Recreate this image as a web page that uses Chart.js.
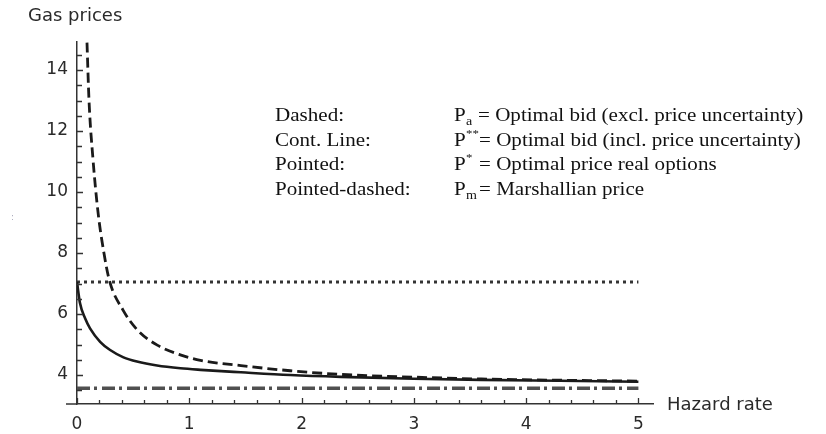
<!DOCTYPE html>
<html>
<head>
<meta charset="utf-8">
<script src="https://cdn.jsdelivr.net/npm/chart.js@4/dist/chart.umd.min.js"></script>
<style>
  body { margin: 0; background: #fff; }
</style>
</head>
<body>
<canvas id="myChart" width="826" height="434"></canvas>
<script>
// values
const hazardDashed = [0.089, 0.107, 0.143, 0.19, 0.24, 0.29, 0.41, 0.537, 0.715, 0.92, 1.1, 1.46, 1.9, 2.35, 3.0, 3.6, 4.3, 5.0];
const priceDashed  = [14.9, 13.0, 11.05, 9.25, 8.0, 7.08, 6.13, 5.48, 4.98, 4.66, 4.48, 4.31, 4.14, 4.02, 3.93, 3.87, 3.83, 3.8];
const hazardSolid  = [0, 0.027, 0.072, 0.116, 0.206, 0.295, 0.414, 0.534, 0.713, 0.921, 1.1, 1.46, 1.9, 2.35, 3.0, 3.6, 4.3, 5.0];
const priceSolid   = [7.05, 6.35, 5.86, 5.53, 5.09, 4.82, 4.58, 4.44, 4.31, 4.22, 4.17, 4.09, 4.0, 3.94, 3.88, 3.84, 3.81, 3.78];
const hazardFlat   = [0, 5];
const pStar = 7.05;
const pMarshall = 3.57;

const xTickLabels = [0, 1, 2, 3, 4, 5];
const yTickLabels = [4, 6, 8, 10, 12, 14];

const legendNames = ['Dashed:', 'Cont. Line:', 'Pointed:', 'Pointed-dashed:'];
const legendSymbols = [['a', 'sub'], ['**', 'sup'], ['*', 'sup'], ['m', 'sub']];
const legendTexts = ['= Optimal bid (excl. price uncertainty)', '= Optimal bid (incl. price uncertainty)',
                     '= Optimal price real options', '= Marshallian price'];

const pts = (xs, ys) => xs.map((x, i) => ({ x: x, y: ys[i] }));
const near = (v, step) => Math.abs(v / step - Math.round(v / step)) < 1e-6;

const axisFont = 'DejaVu Sans';
const textCol = '#2a2a2a';

// inward ticks, axis stub, titles and the text legend
const decor = {
    id: 'decor',
    afterDraw(chart) {
        const ctx = chart.ctx;
        const a = chart.chartArea;
        const xs = chart.scales.x, ys = chart.scales.y;
        ctx.save();
        ctx.strokeStyle = '#333';
        ctx.lineWidth = 1.3;
        ctx.beginPath();
        xs.ticks.forEach(t => {
            const px = Math.round(xs.getPixelForValue(t.value)) + 0.5;
            const len = near(t.value, 1) ? 6 : 4;
            ctx.moveTo(px, a.bottom); ctx.lineTo(px, a.bottom - len);
        });
        ys.ticks.forEach(t => {
            const py = Math.round(ys.getPixelForValue(t.value)) + 0.5;
            const len = near(t.value, 2) ? 6 : 5;
            ctx.moveTo(a.left, py); ctx.lineTo(a.left + len, py);
        });
        ctx.stroke();
        ctx.lineWidth = 1.5;
        ctx.beginPath();
        ctx.moveTo(a.left - 11, a.bottom); ctx.lineTo(a.left, a.bottom);
        ctx.stroke();

        ctx.fillStyle = textCol;
        ctx.font = '18px "' + axisFont + '"';
        ctx.textBaseline = 'middle';
        ctx.textAlign = 'left';
        ctx.fillText('Gas prices', 28, 16);
        ctx.fillText('Hazard rate', 667, 405);
        ctx.fillStyle = '#aab';
        ctx.font = '9px "' + axisFont + '"';
        ctx.fillText(':', 11, 218);

        // legend text (serif, slightly wide)
        const sx = 1.17;
        const put = (txt, x, y, size) => {
            ctx.save();
            ctx.translate(x, y);
            ctx.scale(sx, 1);
            ctx.font = size + 'px "Liberation Serif"';
            ctx.fillText(txt, 0, 0);
            ctx.restore();
        };
        ctx.fillStyle = '#111';
        ctx.textBaseline = 'alphabetic';
        const base = [121, 145.5, 170, 194.5];
        legendNames.forEach((n, i) => {
            const y = base[i];
            put(n, 275, y, 18);
            put('P', 454, y, 18);
            const s = legendSymbols[i];
            if (s[1] === 'sub') put(s[0], 466, y + 4, 12);
            else put(s[0], 466, y - 9, 11);
            put(legendTexts[i], i === 0 ? 478 : 479, y, 18);
        });
        ctx.restore();
    }
};

new Chart(document.getElementById('myChart'), {
    type: 'scatter',
    data: {
        datasets: [{
            label: 'Pa',
            data: pts(hazardDashed, priceDashed),
            showLine: true,
            borderColor: '#1a1a1a',
            borderWidth: 2.8,
            borderDash: [10, 5],
            cubicInterpolationMode: 'monotone',
            pointRadius: 0
        }, {
            label: 'P**',
            data: pts(hazardSolid, priceSolid),
            showLine: true,
            borderColor: '#1a1a1a',
            borderWidth: 2.6,
            cubicInterpolationMode: 'monotone',
            pointRadius: 0
        }, {
            label: 'P*',
            data: pts(hazardFlat, [pStar, pStar]),
            showLine: true,
            borderColor: '#333',
            borderWidth: 3.2,
            borderDash: [3, 4],
            pointRadius: 0
        }, {
            label: 'Pm',
            data: pts(hazardFlat, [pMarshall, pMarshall]),
            showLine: true,
            borderColor: '#505050',
            borderWidth: 3.5,
            borderDash: [13, 4, 3, 5],
            pointRadius: 0
        }]
    },
    options: {
        responsive: false,
        animation: false,
        devicePixelRatio: 1,
        layout: { padding: { top: 42, right: 173, bottom: 0, left: 0 } },
        plugins: { legend: { display: false }, tooltip: { enabled: false } },
        scales: {
            x: {
                type: 'linear',
                min: 0,
                max: 5.13,
                afterFit: s => { s.height = 30; },
                afterBuildTicks: s => { s.ticks = s.ticks.filter(t => near(t.value, 0.2)); },
                grid: { display: false, drawTicks: false },
                border: { display: true, color: '#333', width: 1.5 },
                ticks: {
                    stepSize: 0.2,
                    includeBounds: false,
                    autoSkip: false,
                    maxRotation: 0,
                    padding: 10,
                    color: textCol,
                    font: { family: axisFont, size: 17 },
                    callback: v => xTickLabels.find(l => Math.abs(l - v) < 1e-6) !== undefined ? String(Math.round(v)) : ''
                }
            },
            y: {
                min: 3.05,
                max: 14.92,
                afterFit: s => { s.width = 77; },
                afterBuildTicks: s => { s.ticks = s.ticks.filter(t => near(t.value, 0.5)); },
                grid: { display: false, drawTicks: false },
                border: { display: true, color: '#333', width: 1.5 },
                ticks: {
                    stepSize: 0.5,
                    includeBounds: false,
                    autoSkip: false,
                    padding: 9,
                    color: textCol,
                    font: { family: axisFont, size: 17 },
                    callback: v => yTickLabels.find(l => Math.abs(l - v) < 1e-6) !== undefined ? String(Math.round(v)) : ''
                }
            }
        }
    },
    plugins: [decor]
});
</script>
</body>
</html>
